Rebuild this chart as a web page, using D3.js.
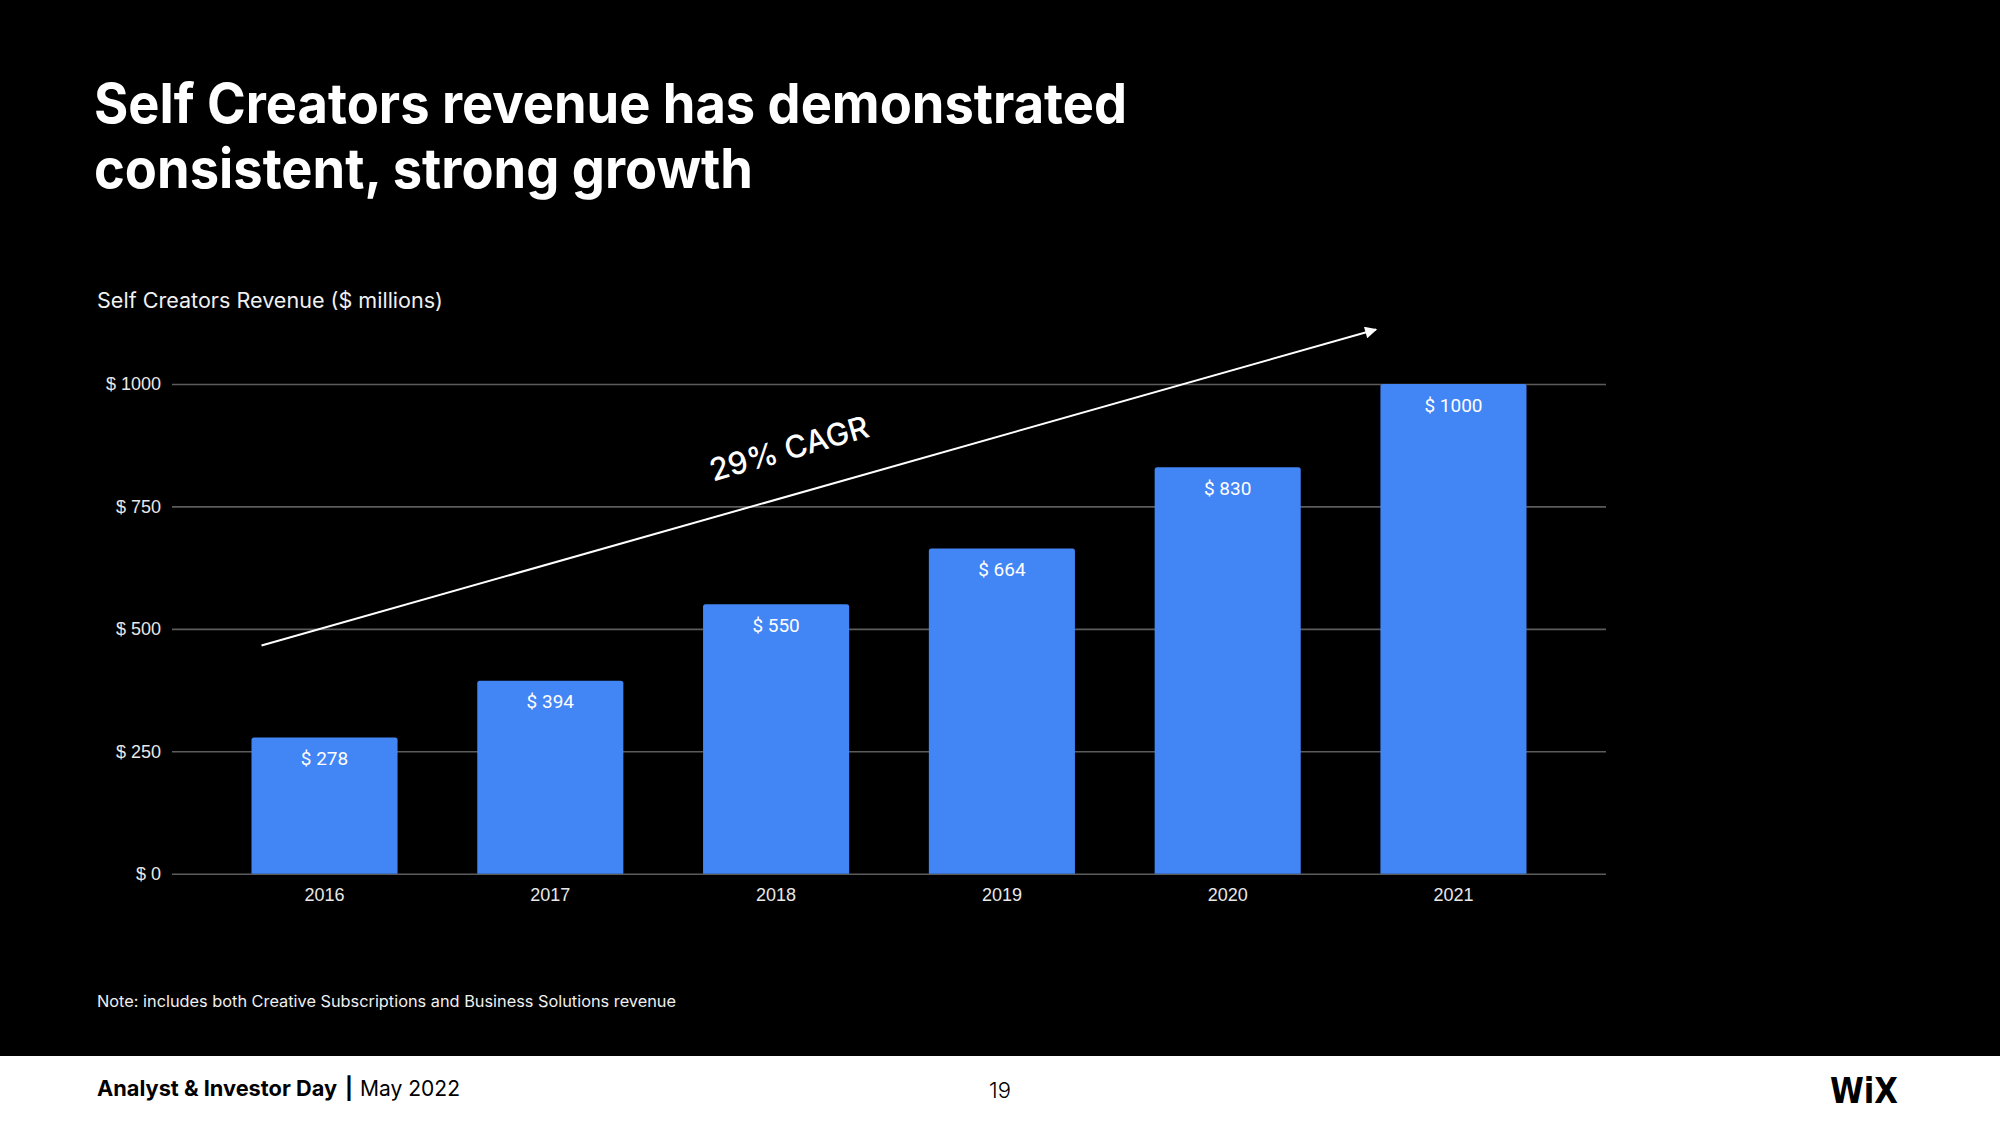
<!DOCTYPE html>
<html>
<head>
<meta charset="utf-8">
<script src="https://cdn.jsdelivr.net/npm/d3@7"></script>
<style>
  html, body { margin: 0; padding: 0; background: #000; }
  svg { display: block; }
</style>
</head>
<body>
<svg id="chart" width="2000" height="1125"></svg>
<script>
const years = ["2016", "2017", "2018", "2019", "2020", "2021"];
const revenue = [278, 394, 550, 664, 830, 1000];
const tickValues = [0, 250, 500, 750, 1000];
const titleLines = ["Self Creators revenue has demonstrated", "consistent, strong growth"];
const subtitle = "Self Creators Revenue ($ millions)";
const note = "Note: includes both Creative Subscriptions and Business Solutions revenue";
const cagrLabel = "29% CAGR";

const svg = d3.select("#chart");
const W = 2000, H = 1125;

svg.append("rect").attr("width", W).attr("height", H).attr("fill", "#000");

// Title
const title = svg.append("text")
  .attr("fill", "#fff")
  .attr("font-family", "Inter, 'Open Sans', sans-serif")
  .attr("font-weight", 700)
  .attr("font-size", 55);
title.append("tspan").attr("x", 94).attr("y", 123).text(titleLines[0])
  .attr("textLength", 1033).attr("lengthAdjust", "spacingAndGlyphs");
title.append("tspan").attr("x", 94).attr("y", 188).text(titleLines[1])
  .attr("textLength", 659).attr("lengthAdjust", "spacingAndGlyphs");

// Subtitle
svg.append("text")
  .attr("x", 97).attr("y", 308)
  .attr("fill", "#f0f0f0")
  .attr("font-family", "Inter, 'Open Sans', sans-serif")
  .attr("font-weight", 400)
  .attr("font-size", 21)
  .attr("textLength", 346).attr("lengthAdjust", "spacingAndGlyphs")
  .text(subtitle);

// Scales
const x = d3.scaleBand().domain(years).range([172, 1606]).paddingInner(0.353).paddingOuter(0.352);
const y = d3.scaleLinear().domain([0, 1000]).range([873.7, 384]);

// Gridlines
const yAxis = d3.axisLeft(y).tickValues(tickValues).tickSize(-(1606 - 172)).tickPadding(11)
  .tickFormat(d => "$ " + d);
const gy = svg.append("g").attr("transform", "translate(172,0)").call(yAxis);
gy.select(".domain").remove();
gy.selectAll(".tick line").attr("stroke", "#5c5c5c").attr("stroke-width", 1.6);
gy.selectAll(".tick text")
  .attr("fill", "#e8e8e8")
  .attr("font-family", "Arial, 'Liberation Sans', sans-serif")
  .attr("font-size", 18);

// Bars
svg.append("g").selectAll("path").data(revenue).join("path")
  .attr("fill", "#4285f4")
  .attr("d", (d, i) => {
    const x0 = x(years[i]), w = x.bandwidth(), y0 = y(d), y1 = y(0), r = 2.5;
    return `M${x0},${y1}V${y0 + r}Q${x0},${y0} ${x0 + r},${y0}H${x0 + w - r}Q${x0 + w},${y0} ${x0 + w},${y0 + r}V${y1}Z`;
  });

// Bar labels
svg.append("g").selectAll("text").data(revenue).join("text")
  .attr("x", (d, i) => x(years[i]) + x.bandwidth() / 2)
  .attr("y", d => y(d) + 27.5)
  .attr("text-anchor", "middle")
  .attr("fill", "#fff")
  .attr("font-family", "Roboto, Arial, sans-serif")
  .attr("font-size", 19)
  .text(d => "$ " + d);

// X axis labels
const xAxis = d3.axisBottom(x).tickSize(0).tickPadding(0);
const gx = svg.append("g").attr("transform", "translate(0,873.7)").call(xAxis);
gx.select(".domain").remove();
gx.selectAll(".tick text")
  .attr("fill", "#e8e8e8")
  .attr("font-family", "Arial, 'Liberation Sans', sans-serif")
  .attr("font-size", 18)
  .attr("dy", null)
  .attr("y", 27.3);

// CAGR arrow
const defs = svg.append("defs");
defs.append("marker").attr("id", "arrow")
  .attr("viewBox", "0 0 10 10").attr("refX", 9).attr("refY", 5)
  .attr("markerWidth", 7).attr("markerHeight", 6).attr("markerUnits", "strokeWidth")
  .attr("orient", "auto")
  .append("path").attr("d", "M0,0L10,5L0,10Z").attr("fill", "#fff");

svg.append("line")
  .attr("x1", 261.5).attr("y1", 645.5)
  .attr("x2", 1376).attr("y2", 329.5)
  .attr("stroke", "#fff").attr("stroke-width", 2)
  .attr("marker-end", "url(#arrow)");

svg.append("text")
  .attr("transform", "translate(792,459) rotate(-16)")
  .attr("text-anchor", "middle")
  .attr("fill", "#fff")
  .attr("font-family", "Inter, 'Open Sans', sans-serif")
  .attr("font-weight", 500)
  .attr("font-size", 31)
  .text(cagrLabel);

// Note
svg.append("text")
  .attr("x", 97).attr("y", 1007)
  .attr("fill", "#f0f0f0")
  .attr("font-family", "Inter, 'Open Sans', sans-serif")
  .attr("font-size", 15.5)
  .attr("textLength", 579).attr("lengthAdjust", "spacingAndGlyphs")
  .text(note);

// Footer
svg.append("rect").attr("x", 0).attr("y", 1056).attr("width", W).attr("height", H - 1056).attr("fill", "#fff");

const ft = svg.append("text").attr("y", 1096).attr("fill", "#000")
  .attr("font-family", "Inter, 'Open Sans', sans-serif").attr("font-size", 21.5);
ft.append("tspan").attr("x", 97).attr("font-weight", 700).text("Analyst & Investor Day")
  .attr("textLength", 240).attr("lengthAdjust", "spacingAndGlyphs");
ft.append("tspan").attr("x", 345).attr("font-weight", 700).text("|");
ft.append("tspan").attr("x", 360).attr("font-weight", 400).text("May 2022")
  .attr("textLength", 100).attr("lengthAdjust", "spacingAndGlyphs");

svg.append("text")
  .attr("x", 1000).attr("y", 1098)
  .attr("text-anchor", "middle")
  .attr("fill", "#000")
  .attr("font-family", "Inter, 'Open Sans', sans-serif")
  .attr("font-weight", 300)
  .attr("font-size", 22)
  .text("19");

svg.append("text")
  .attr("x", 1830).attr("y", 1103)
  .attr("fill", "#000")
  .attr("font-family", "'DejaVu Sans Condensed', 'DejaVu Sans', sans-serif")
  .attr("font-weight", 700)
  .attr("font-size", 36)
  .attr("textLength", 68).attr("lengthAdjust", "spacingAndGlyphs")
  .text("WiX");
</script>
</body>
</html>
